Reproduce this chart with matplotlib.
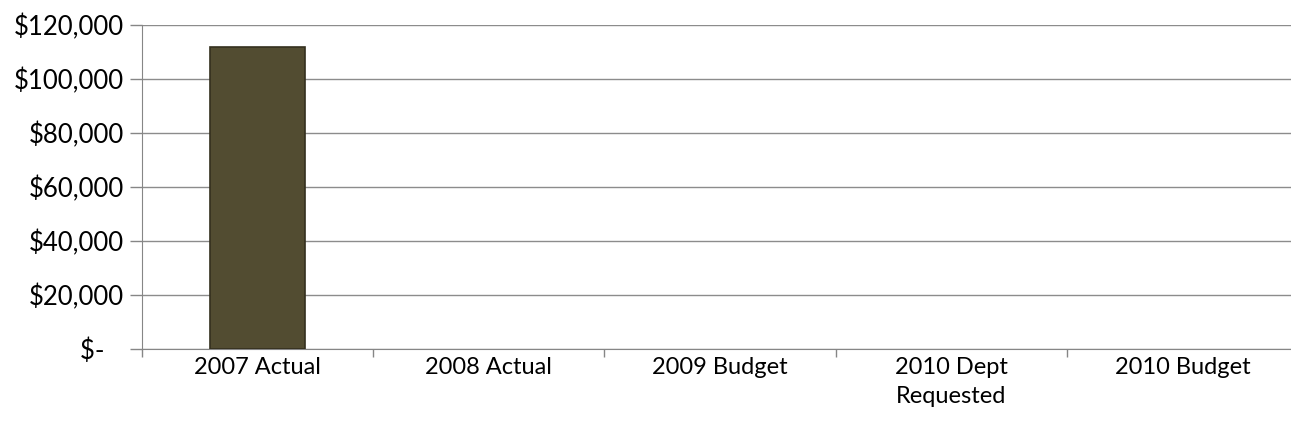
import matplotlib.pyplot as plt
from matplotlib.ticker import FuncFormatter

# Data
categories = ["2007 Actual", "2008 Actual", "2009 Budget", "2010 Dept\nRequested", "2010 Budget"]
values = [112000, 0, 0, 0, 0]
y_ticks = [0, 20000, 40000, 60000, 80000, 100000, 120000]

plt.rcParams['font.family'] = ['Lato', 'DejaVu Sans']

fig = plt.figure(figsize=(12.91, 4.36), dpi=100)
# plot area runs slightly past the right edge of the picture, like the original
ax = fig.add_axes([142 / 1291, (436 - 349) / 436, 1156 / 1291, 324 / 436])

x = list(range(len(categories)))
widths = [1.2 if v > 0 else 0 for v in values]
ax.bar(x, values, width=0.41, color="#524c31", edgecolor="#34301e", linewidth=widths, zorder=3)

ax.set_xlim(-0.5, len(categories) - 0.5)
ax.set_ylim(0, 120000)
ax.set_yticks(y_ticks)


def money(v, pos):
    if v == 0:
        return "$-   "
    return "${:,.0f}".format(v)


ax.yaxis.set_major_formatter(FuncFormatter(money))
ax.set_xticks(x)
ax.set_xticklabels(categories, fontsize=17, linespacing=1.45)
ax.set_xticks([i - 0.5 for i in range(len(categories) + 1)], minor=True)
ax.tick_params(axis="x", which="major", length=0, pad=6)
ax.tick_params(axis="x", which="minor", length=6, color="#868686", width=1)
ax.tick_params(axis="y", length=9, color="#868686", width=1, labelsize=18.5, pad=4)

ax.grid(axis="y", color="#8c8c8c", linewidth=1, zorder=0)
for s in ["top", "right"]:
    ax.spines[s].set_visible(False)
ax.spines["left"].set_color("#868686")
ax.spines["bottom"].set_color("#868686")

fig.savefig("out.png", dpi=100)
